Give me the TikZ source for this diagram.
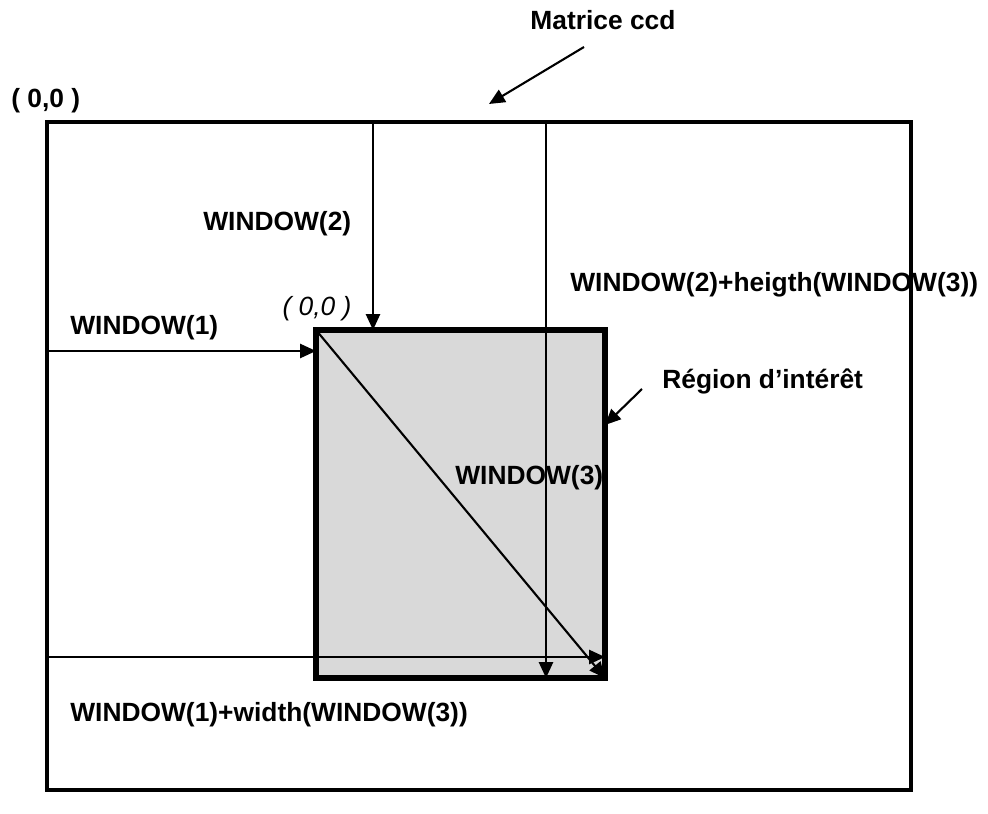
\documentclass[tikz,border=0pt]{standalone}
\usepackage{fontspec}
\setmainfont{Liberation Sans}
\usetikzlibrary{arrows.meta}
\definecolor{roigray}{RGB}{217,217,217}
\begin{document}
\begin{tikzpicture}[x=0.02cm, y=-0.02cm, >={Triangle[length=9pt, width=8pt]},
    lbl/.style={font=\fontsize{15}{17}\selectfont\bfseries, inner sep=0pt, anchor=west},
    conn/.style={->, line width=1.2pt},
    frame/.style={draw, line width=2.3pt}]
        \useasboundingbox (0,0) rectangle (988,814);
        % matrice ccd et region d'interet
        \draw[frame] (47,122) rectangle (911,790);
        \draw[frame, line width=3pt, fill=roigray] (316,330) rectangle (605,678);
        \coordinate (top2) at (373,122);
        \coordinate (top3) at (546,122);
        \coordinate (left1) at (47,351);
        \coordinate (left3) at (47,657);
        \coordinate (roi) at (316,330);
        \coordinate (roiend) at (605,678);
        \draw[conn] (top2) -- (373,330);
        \draw[conn] (top3) -- (546,678);
        \draw[conn] (left1) -- (316,351);
        \draw[conn] (left3) -- (605,657);
        \draw[conn] (roi) -- (roiend);
        % etiquettes
        \node[lbl, anchor=center] (ccd) at (603,20) {Matrice ccd};
        \coordinate (ccdtip) at (489,104);
        \draw[conn] (584,47) -- (ccdtip);
        \node[lbl] (orig) at (11,101) {( 0,0 )};
        \node[lbl] (w2) at (203,224) {WINDOW(2)};
        \node[lbl] (w2h) at (570,285) {WINDOW(2)+heigth(WINDOW(3))};
        \node[font=\fontsize{15}{17}\selectfont\itshape, inner sep=0pt] (origroi) at (317,309) {( 0,0 )};
        \node[lbl] (w1) at (70,328) {WINDOW(1)};
        \node[lbl] (reg) at (662,381) {Région d’intérêt};
        \coordinate (regtip) at (605,425);
        \draw[conn] (642,389) -- (regtip);
        \node[lbl] (w3) at (455,478) {WINDOW(3)};
        \node[lbl] (w1w) at (70,715) {WINDOW(1)+width(WINDOW(3))};
\end{tikzpicture}
\end{document}
